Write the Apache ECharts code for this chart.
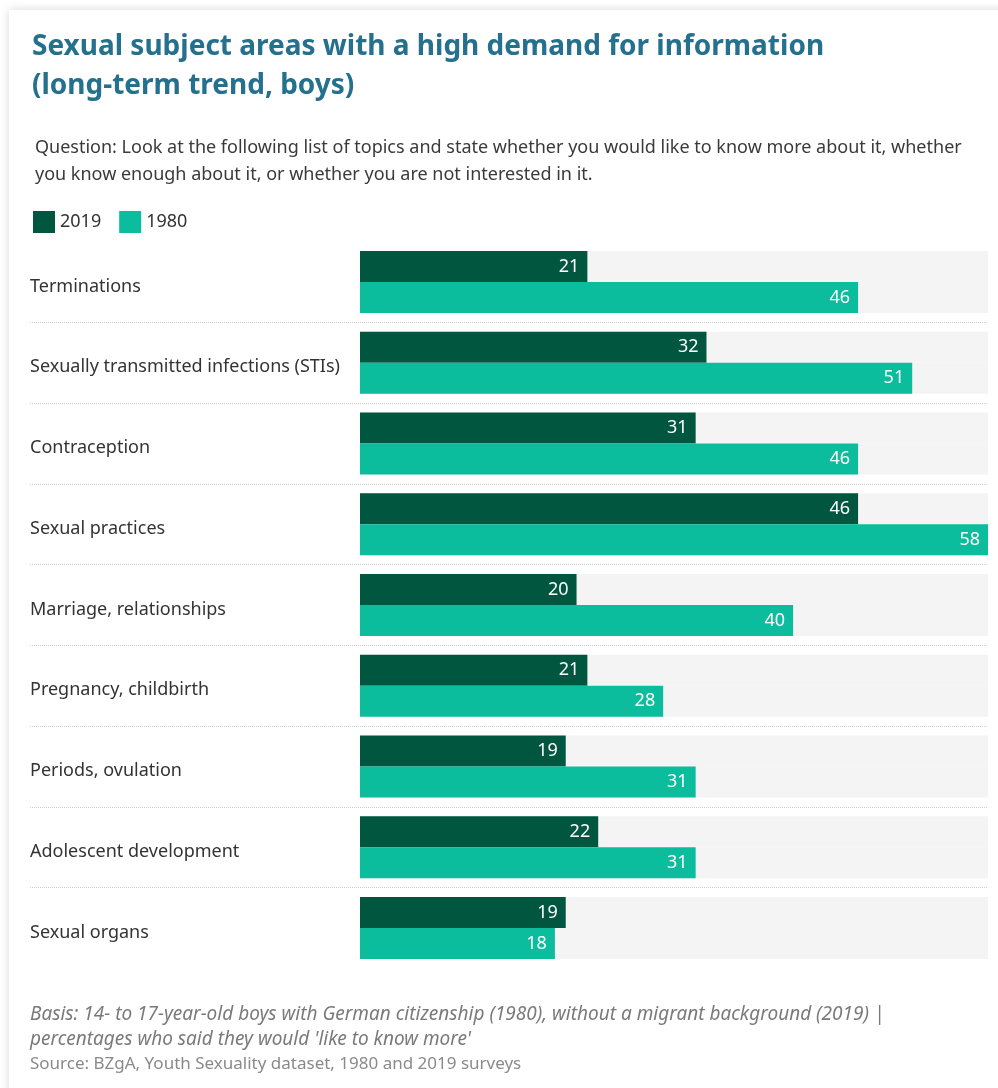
<!DOCTYPE html>
<html>
<head>
<meta charset="utf-8">
<script src="https://cdn.jsdelivr.net/npm/echarts@6/dist/echarts.min.js"></script>
<style>
  html, body { margin: 0; padding: 0; background: #ffffff; overflow: hidden; }
  #card {
    position: absolute; left: 9px; top: 10px; width: 1010px; height: 1100px;
    background: #ffffff; box-shadow: 0 0 9px rgba(0,0,0,0.16);
  }
  #chart { position: absolute; left: 0; top: 0; width: 998px; height: 1088px; }
</style>
</head>
<body>
<div id="card"></div>
<div id="chart"></div>
<script>
// Topics, top to bottom
const categories = [
  'Terminations',
  'Sexually transmitted infections (STIs)',
  'Contraception',
  'Sexual practices',
  'Marriage, relationships',
  'Pregnancy, childbirth',
  'Periods, ovulation',
  'Adolescent development',
  'Sexual organs'
];
// Share of boys who would "like to know more" (%)
const values2019 = [21, 32, 31, 46, 20, 21, 19, 22, 19];
const values1980 = [46, 51, 46, 58, 40, 28, 31, 31, 18];
const seriesNames = ['2019', '1980'];

const FONT = '"Noto Sans", "Open Sans", sans-serif';
const DARK = '#00563f';
const TEAL = '#0bbc9d';

const chart = echarts.init(document.getElementById('chart'), null, { renderer: 'canvas' });

const H = 1088;
const gridTop = 241.6;
const gridBottom = 119.6;
const band = (H - gridTop - gridBottom) / categories.length;

// the separators sit on the boundaries between neighbouring topics,
// so their helper grid runs from the first boundary to the last one
const innerBoundaries = categories.slice(1, categories.length - 1);

const barLabel = {
  show: true,
  position: 'insideRight',
  distance: 8,
  color: '#ffffff',
  fontFamily: FONT,
  fontSize: 18
};

chart.setOption({
  animation: false,
  backgroundColor: 'transparent',
  title: [
    {
      text: 'Sexual subject areas with a high demand for information\n(long-term trend, boys)',
      left: 27, top: 23,
      textStyle: { fontFamily: FONT, fontSize: 28, fontWeight: 'bold', color: '#25708d', lineHeight: 39 }
    },
    {
      text: 'Question: Look at the following list of topics and state whether you would like to know more about it, whether\nyou know enough about it, or whether you are not interested in it.',
      left: 30, top: 129,
      textStyle: { fontFamily: FONT, fontSize: 18, fontWeight: 'normal', color: '#3a3a3a', lineHeight: 27 }
    }
  ],
  legend: {
    data: seriesNames,
    left: 28, top: 206,
    itemWidth: 22, itemHeight: 22, itemGap: 18,
    icon: 'rect',
    textStyle: { fontFamily: FONT, fontSize: 18, color: '#333333' }
  },
  grid: [
    { left: 360, right: 10, top: gridTop, bottom: gridBottom },
    { left: 30, right: 10, top: gridTop + band, bottom: gridBottom + band }
  ],
  xAxis: [
    { type: 'value', gridIndex: 0, min: 0, max: 58, show: false, splitLine: { show: false } },
    { type: 'value', gridIndex: 1, min: 0, max: 1, show: false, splitLine: { show: false } }
  ],
  yAxis: [
    {
      type: 'category', gridIndex: 0, data: categories, inverse: true,
      axisLine: { show: false }, axisTick: { show: false }, splitLine: { show: false },
      axisLabel: {
        margin: 330, align: 'left',
        formatter: function (v) { return '{t|' + v + '}'; },
        rich: {
          t: { fontFamily: FONT, fontSize: 18, color: '#333333', padding: [9, 0, 0, 0] }
        }
      }
    },
    {
      // dotted separators between topics, running under both labels and bars
      type: 'category', gridIndex: 1, data: innerBoundaries, inverse: true,
      axisLine: { show: false }, axisTick: { show: false }, axisLabel: { show: false },
      splitLine: {
        show: true,
        interval: 0,
        lineStyle: { color: '#cfcfcf', type: [1, 1], width: 1 }
      }
    }
  ],
  series: [
    {
      name: seriesNames[0], type: 'bar', xAxisIndex: 0, yAxisIndex: 0,
      data: values2019, barWidth: 31, barGap: '0%',
      itemStyle: { color: DARK },
      showBackground: true, backgroundStyle: { color: '#f4f4f4' },
      label: barLabel
    },
    {
      name: seriesNames[1], type: 'bar', xAxisIndex: 0, yAxisIndex: 0,
      data: values1980, barWidth: 31, barGap: '0%',
      itemStyle: { color: TEAL },
      showBackground: true, backgroundStyle: { color: '#f4f4f4' },
      label: barLabel
    }
  ],
  graphic: [
    {
      type: 'text', left: 30, top: 1002,
      style: {
        text: "Basis: 14- to 17-year-old boys with German citizenship (1980), without a migrant background (2019) |\npercentages who said they would 'like to know more'",
        fontFamily: FONT, fontSize: 19, fontStyle: 'italic', fill: '#7a7a7a', lineHeight: 25
      }
    },
    {
      type: 'text', left: 30, top: 1056,
      style: {
        text: 'Source: BZgA, Youth Sexuality dataset, 1980 and 2019 surveys',
        fontFamily: FONT, fontSize: 17, fill: '#8a8a8a'
      }
    }
  ]
});
</script>
</body>
</html>
